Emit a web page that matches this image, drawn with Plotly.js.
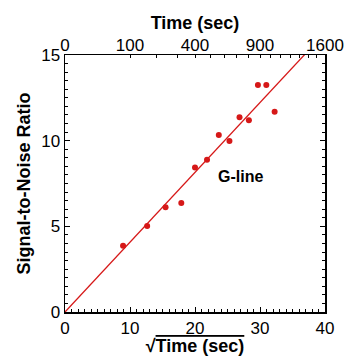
<!DOCTYPE html>
<html>
<head>
<meta charset="utf-8">
<script src="https://cdn.plot.ly/plotly-3.0.1.min.js"></script>
<style>html,body{margin:0;padding:0;background:#fff;}</style>
</head>
<body>
<div id="chart" style="width:346px;height:356px;"></div>
<script>
// Data
const sqrtTime = [8.93, 12.64, 15.47, 17.89, 20.0, 21.85, 23.66, 25.3, 26.85, 28.29, 29.68, 30.97, 32.25];
const snr      = [3.87, 5.02, 6.11, 6.36, 8.43, 8.89, 10.33, 9.98, 11.36, 11.19, 13.25, 13.25, 11.69];
const fitX = [0, 40];
const fitY = [0, 16.3];
const timeTicks = [0,100,200,300,400,500,600,700,800,900,1000,1100,1200,1300,1400,1500,1600];
const timeLabels = ['0','100','','','400','','','','','900','','','','','','','1600'];
const bottomTicks = [0, 10, 20, 30, 40];
const leftTicks = [0, 5, 10, 15];
const annotationText = 'G-line';

const red = 'rgb(214,24,24)';
const fam = 'Liberation Sans, Arial, sans-serif';
const font = {family: fam, size: 17, color: '#000'};

const traces = [
  {x: fitX, y: fitY, mode: 'lines', line: {color: red, width: 1.3}, xaxis: 'x', yaxis: 'y', hoverinfo: 'skip', showlegend: false},
  {x: sqrtTime, y: snr, mode: 'markers', marker: {color: red, size: 6}, xaxis: 'x', yaxis: 'y', showlegend: false},
  {x: timeTicks.map(Math.sqrt), y: timeTicks.map(() => null), mode: 'markers', xaxis: 'x2', yaxis: 'y', showlegend: false, hoverinfo: 'skip'}
];

const layout = {
  width: 346, height: 356,
  margin: {l: 65, r: 21, t: 55, b: 44},
  paper_bgcolor: '#fff', plot_bgcolor: '#fff',
  font: font,
  showlegend: false,
  xaxis: {
    range: [0, 40], tickvals: bottomTicks, ticks: 'inside', ticklen: 5, tickwidth: 1, tickcolor: '#000',
    showline: true, linecolor: '#000', linewidth: 1.5, mirror: true, showgrid: false, zeroline: false,
    minor: {dtick: 1, ticks: 'inside', ticklen: 3, tickcolor: '#000', showgrid: false},
    tickfont: {size: 17, family: fam},
    title: {text: '<b>√<span style="text-decoration:overline">Time (sec)</span></b>', font: {size: 18, family: fam}, standoff: 3}
  },
  xaxis2: {
    overlaying: 'x', side: 'top', range: [0, 40],
    tickvals: timeTicks.map(Math.sqrt), ticktext: timeLabels,
    ticks: 'inside', ticklen: 3, tickwidth: 1, tickcolor: '#000',
    showline: false, showgrid: false, zeroline: false,
    tickfont: {size: 17, family: fam},
    title: {text: '<b>Time (sec)</b>', font: {size: 18, family: fam}, standoff: 1}
  },
  yaxis: {
    range: [0, 15], tickvals: leftTicks, ticks: 'inside', ticklen: 5, tickwidth: 1, tickcolor: '#000',
    showline: true, linecolor: '#000', linewidth: 1.5, mirror: 'ticks', showgrid: false, zeroline: false,
    minor: {dtick: 0.5, ticks: 'inside', ticklen: 3, tickcolor: '#000', showgrid: false},
    tickfont: {size: 17, family: fam},
    title: {text: '<b>Signal-to-Noise Ratio</b>', font: {size: 18, family: fam}, standoff: 6}
  },
  annotations: [
    {x: 26.95, y: 7.9, xref: 'x', yref: 'y', text: '<b>' + annotationText + '</b>', showarrow: false,
     font: {size: 16, family: fam, color: '#000'}}
  ]
};

Plotly.newPlot('chart', traces, layout, {displayModeBar: false, staticPlot: true});
</script>
</body>
</html>
